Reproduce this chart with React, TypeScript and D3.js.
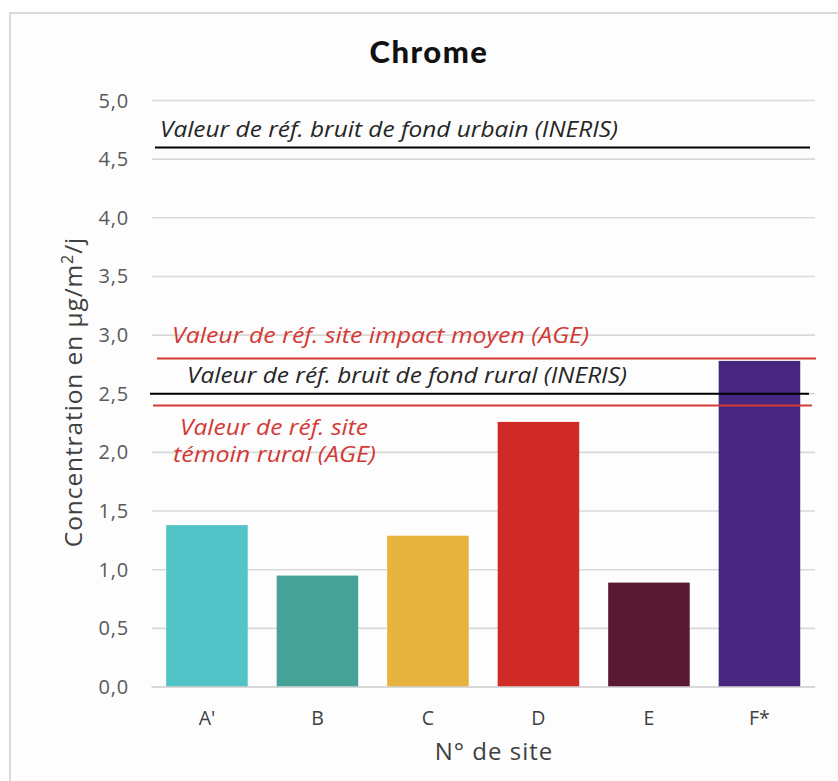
import React from "react";
import * as d3 from "d3";

const categories = ["A'", "B", "C", "D", "E", "F*"];
const values = [1.38, 0.95, 1.29, 2.26, 0.89, 2.78];
const barColors = ["#52c3c6", "#44a396", "#e8b23e", "#d02a26", "#5a1933", "#46267e"];
const yTicks = [0, 0.5, 1, 1.5, 2, 2.5, 3, 3.5, 4, 4.5, 5];

const refValues = [4.6, 2.8, 2.5, 2.4];
const refColors = ["#000000", "#d23a36", "#000000", "#d23a36"];
const refX = [[155, 810], [157, 816], [150, 809], [153, 812]];

const W = 838;
const H = 781;

export default function App() {
  const y = d3.scaleLinear().domain([0, 5]).range([687, 100.5]);
  const x = d3
    .scaleBand<string>()
    .domain(categories)
    .range([151.7, 814.7])
    .paddingInner(0.262)
    .paddingOuter(0.131);
  const fmt = (v: number) => d3.format(".1f")(v).replace(".", ",");
  const font = "'Open Sans', Lato, sans-serif";
  const red = "#d23a36";

  return (
    <svg
      width={W}
      height={H}
      style={{ position: "absolute", left: 0, top: 0, background: "#ffffff" }}
      fontFamily={font}
    >
      <rect x={10} y={13} width={W + 20} height={H + 20} fill="#fdfdfd" stroke="#d9d9d9" strokeWidth={2} />
      <text x={429} y={63} textAnchor="middle" fontSize={31} fontWeight={900} fontFamily="Lato, sans-serif" letterSpacing={1.5} fill="#111">
        Chrome
      </text>
      {yTicks.map((t) => (
        <g key={t}>
          <line x1={151.7} x2={815} y1={y(t)} y2={y(t)} stroke="#d9d9d9" strokeWidth={1.6} />
          <text x={129} y={y(t)} dy="0.35em" textAnchor="end" fontSize={20} letterSpacing={0.8} fill="#595959">
            {fmt(t)}
          </text>
        </g>
      ))}
      {categories.map((c, i) => (
        <g key={c}>
          <rect
            x={x(c)}
            y={y(values[i])}
            width={x.bandwidth()}
            height={y(0) - y(values[i])}
            fill={barColors[i]}
          />
          <text x={(x(c) as number) + x.bandwidth() / 2} y={718} dy="0.35em" textAnchor="middle" fontSize={19.5} fill="#404040">
            {c}
          </text>
        </g>
      ))}
      <line x1={151.7} x2={815} y1={y(0)} y2={y(0)} stroke="#d4d4d4" strokeWidth={1.6} />
      {refValues.map((v, i) => (
        <line key={i} x1={refX[i][0]} x2={refX[i][1]} y1={y(v)} y2={y(v)} stroke={refColors[i]} strokeWidth={2} />
      ))}
      <g fontStyle="italic" fontSize={21}>
        <text x={160} y={137} fill="#262626" textLength={458} lengthAdjust="spacingAndGlyphs">Valeur de réf. bruit de fond urbain (INERIS)</text>
        <text x={172} y={343} fill={red} textLength={417} lengthAdjust="spacingAndGlyphs">Valeur de réf. site impact moyen (AGE)</text>
        <text x={187} y={383} fill="#262626" textLength={440} lengthAdjust="spacingAndGlyphs">Valeur de réf. bruit de fond rural (INERIS)</text>
        <text x={180} y={435} fill={red} textLength={188} lengthAdjust="spacingAndGlyphs">Valeur de réf. site</text>
        <text x={173} y={462} fill={red} textLength={203} lengthAdjust="spacingAndGlyphs">témoin rural (AGE)</text>
      </g>
      <text
        transform="translate(73,392) rotate(-90)"
        textAnchor="middle"
        dy="0.35em"
        fontSize={24.5}
        letterSpacing={0.9}
        fill="#404040"
      >
        Concentration en µg/m<tspan dy="-9" fontSize={16}>2</tspan>
        <tspan dy="9">/j</tspan>
      </text>
      <text x={494} y={752} dy="0.35em" textAnchor="middle" fontSize={24} letterSpacing={1} fill="#404040">
        N° de site
      </text>
    </svg>
  );
}
